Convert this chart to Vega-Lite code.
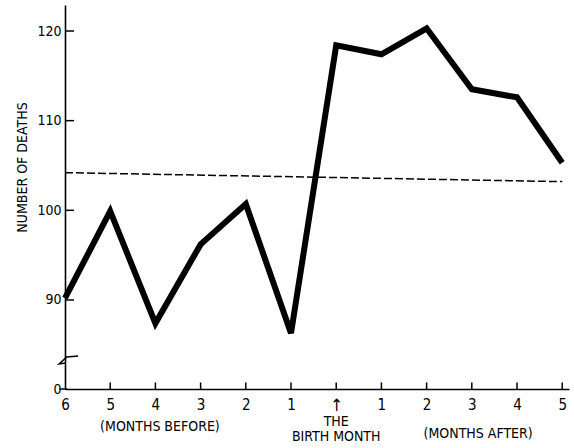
{
  "$schema": "https://vega.github.io/schema/vega-lite/v6.json",
  "width": 504,
  "height": 384,
  "autosize": {"type": "none"},
  "padding": {"left": 65, "top": 5, "right": 5, "bottom": 59},
  "background": "white",
  "config": {
    "view": {"stroke": null},
    "font": "DejaVu Sans Condensed, Liberation Sans, sans-serif",
    "axis": {
      "domainColor": "black",
      "domainWidth": 1.6,
      "ticks": false,
      "labelColor": "black",
      "titleColor": "black",
      "labelFont": "DejaVu Sans Condensed, Liberation Sans, sans-serif",
      "titleFont": "DejaVu Sans Condensed, Liberation Sans, sans-serif",
      "grid": false
    }
  },
  "datasets": {
    "months": [
      {"i": 0, "label": "6 before", "v": 90.2},
      {"i": 1, "label": "5 before", "v": 99.9},
      {"i": 2, "label": "4 before", "v": 87.4},
      {"i": 3, "label": "3 before", "v": 96.2},
      {"i": 4, "label": "2 before", "v": 100.7},
      {"i": 5, "label": "1 before", "v": 86.3},
      {"i": 6, "label": "birth month", "v": 118.4},
      {"i": 7, "label": "1 after", "v": 117.4},
      {"i": 8, "label": "2 after", "v": 120.3},
      {"i": 9, "label": "3 after", "v": 113.5},
      {"i": 10, "label": "4 after", "v": 112.6},
      {"i": 11, "label": "5 after", "v": 105.3}
    ],
    "average": [
      {"i": 0, "v": 104.2},
      {"i": 11, "v": 103.2}
    ],
    "xticks": [
      {"i": 1, "v": 80.07, "v2": 80.8},
      {"i": 2, "v": 80.07, "v2": 80.8},
      {"i": 3, "v": 80.07, "v2": 80.8},
      {"i": 4, "v": 80.07, "v2": 80.8},
      {"i": 5, "v": 80.07, "v2": 80.8},
      {"i": 6, "v": 80.07, "v2": 80.8},
      {"i": 7, "v": 80.07, "v2": 80.8},
      {"i": 8, "v": 80.07, "v2": 80.8},
      {"i": 9, "v": 80.07, "v2": 80.8},
      {"i": 10, "v": 80.07, "v2": 80.8},
      {"i": 11, "v": 80.07, "v2": 80.8}
    ],
    "yticks": [
      {"i": -0.12, "i2": 0.05, "v": 80.07},
      {"i": 0, "i2": 0.2, "v": 90},
      {"i": 0, "i2": 0.2, "v": 100},
      {"i": 0, "i2": 0.2, "v": 110},
      {"i": 0, "i2": 0.2, "v": 120}
    ],
    "brk": [
      {"o": 0, "i": 0.29, "v": 83.75},
      {"o": 1, "i": 0.04, "v": 83.64},
      {"o": 2, "i": -0.13, "v": 82.86},
      {"o": 3, "i": 0.02, "v": 82.97}
    ],
    "notes": [
      {"i": 2.1, "v": 75.8, "t": "(MONTHS BEFORE)"},
      {"i": 6.0, "v": 76.35, "t": "THE"},
      {"i": 6.0, "v": 74.7, "t": "BIRTH MONTH"},
      {"i": 9.14, "v": 75.0, "t": "(MONTHS AFTER)"}
    ]
  },
  "layer": [
    {
      "data": {"name": "average"},
      "mark": {"type": "line", "color": "black", "strokeWidth": 1.5, "strokeDash": [8, 3]},
      "encoding": {
        "x": {
          "field": "i", "type": "quantitative",
          "scale": {"domain": [0, 11.15], "nice": false, "zero": false},
          "axis": {
            "title": null,
            "values": [0, 1, 2, 3, 4, 5, 6, 7, 8, 9, 10, 11],
            "labelExpr": "['6','5','4','3','2','1','↑','1','2','3','4','5'][datum.value]",
            "labelPadding": 8,
            "labelFontSize": {"condition": {"test": "datum.value == 6", "value": 17}, "value": 15},
            "labelFlush": false
          }
        },
        "y": {
          "field": "v", "type": "quantitative",
          "scale": {"domain": [80.07, 122.9], "nice": false, "zero": false},
          "axis": {
            "title": "NUMBER OF DEATHS",
            "titleFontSize": 14,
            "titleFontWeight": "normal",
            "titleX": -43,
            "titleY": 162,
            "titleAngle": -90,
            "titleAlign": "center",
            "titleBaseline": "middle",
            "values": [80.07, 90, 100, 110, 120],
            "labelExpr": "datum.value < 85 ? '0' : datum.label",
            "labelPadding": 4,
            "labelFontSize": 14
          }
        }
      }
    },
    {
      "data": {"name": "xticks"},
      "mark": {"type": "rule", "color": "black", "strokeWidth": 1.5},
      "encoding": {
        "x": {"field": "i", "type": "quantitative"},
        "y": {"field": "v", "type": "quantitative"},
        "y2": {"field": "v2"}
      }
    },
    {
      "data": {"name": "yticks"},
      "mark": {"type": "rule", "color": "black", "strokeWidth": 1.5},
      "encoding": {
        "x": {"field": "i", "type": "quantitative"},
        "x2": {"field": "i2"},
        "y": {"field": "v", "type": "quantitative"}
      }
    },
    {
      "data": {"name": "months"},
      "mark": {"type": "line", "color": "black", "strokeWidth": 6, "strokeJoin": "miter", "strokeCap": "butt"},
      "encoding": {
        "x": {"field": "i", "type": "quantitative"},
        "y": {"field": "v", "type": "quantitative"}
      }
    },
    {
      "data": {"name": "brk"},
      "mark": {"type": "line", "color": "black", "strokeWidth": 1.5},
      "encoding": {
        "x": {"field": "i", "type": "quantitative"},
        "y": {"field": "v", "type": "quantitative"},
        "order": {"field": "o"}
      }
    },
    {
      "data": {"name": "notes"},
      "mark": {"type": "text", "color": "black", "fontSize": 14, "baseline": "middle", "align": "center"},
      "encoding": {
        "x": {"field": "i", "type": "quantitative"},
        "y": {"field": "v", "type": "quantitative"},
        "text": {"field": "t"}
      }
    }
  ]
}
